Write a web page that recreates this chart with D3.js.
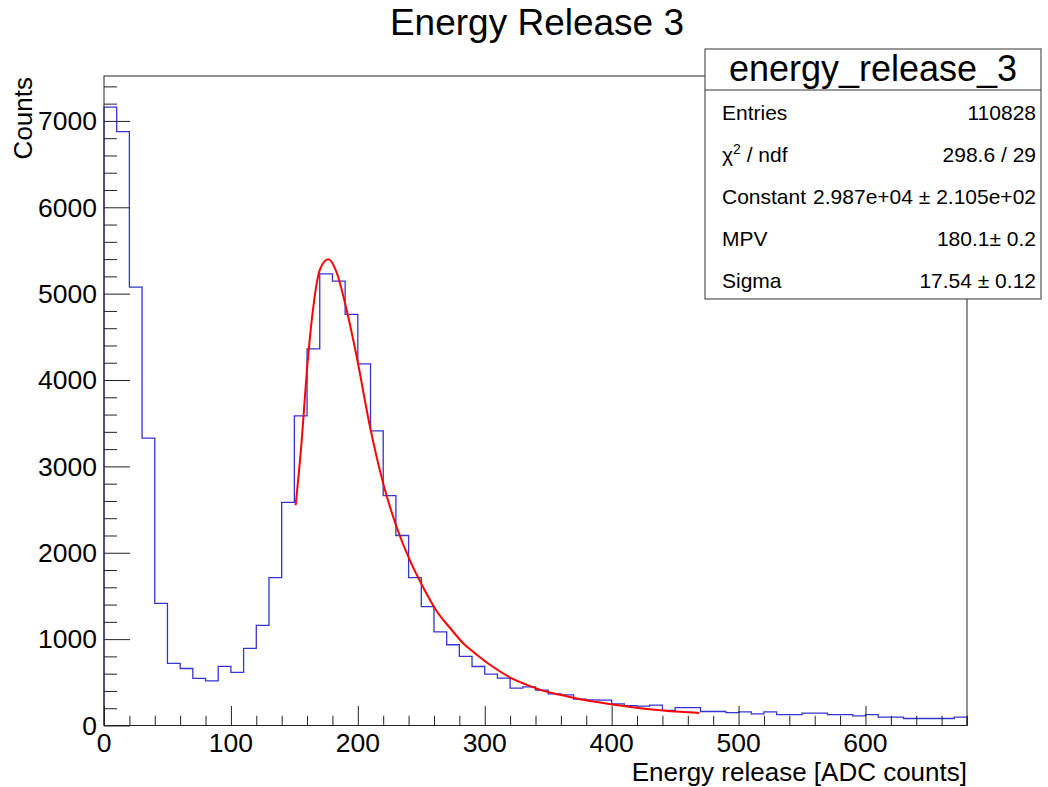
<!DOCTYPE html>
<html>
<head>
<meta charset="utf-8">
<script src="https://cdn.jsdelivr.net/npm/d3@7"></script>
<style>
  html, body { margin: 0; padding: 0; background: #fff; }
  svg { display: block; font-family: "Liberation Sans", Arial, Helvetica, sans-serif; }
</style>
</head>
<body>
<svg id="chart" width="1048" height="787"></svg>
<script>
// ---- data ----
const binWidth = 10;
const binLowEdges = d3.range(0, 680, binWidth);
const counts = [
  7160, 6877, 5075, 3327, 1415, 720, 660, 546, 516, 685,
  616, 894, 1160, 1711, 2584, 3585, 4361, 5230, 5145, 4761,
  4187, 3411, 2662, 2200, 1711, 1377, 1083, 935, 800, 683,
  594, 548, 432, 447, 409, 366, 355, 305, 297, 293,
  251, 231, 224, 235, 174, 208, 208, 162, 162, 150,
  158, 135, 158, 127, 127, 143, 143, 127, 127, 112,
  127, 96, 96, 81, 81, 81, 81, 96
];
const fitX = [151, 155.8, 159.7, 165.0, 170.2, 176.8, 183.4, 189.9, 199.1, 209.6,
  220.1, 230.7, 241.2, 251.7, 262.2, 272.7, 283.2, 291.1, 301.6, 312.1,
  322.6, 333.1, 343.6, 359.4, 375.1, 390.9, 406.7, 422.4, 438.2, 454.0, 469.0];
const fitY = [2550, 3302, 4078, 4854, 5281, 5397, 5242, 4893, 4272, 3457,
  2797, 2293, 1905, 1595, 1323, 1129, 950, 850, 729, 625,
  536, 471, 413, 355, 305, 266, 231, 201, 177, 158, 145];
const xMajorTicks = [0, 100, 200, 300, 400, 500, 600];
const yMajorTicks = [0, 1000, 2000, 3000, 4000, 5000, 6000, 7000];
const statsLabels = ["Entries", "χ2 / ndf", "Constant", "MPV", "Sigma"];
const statsValues = ["110828", "298.6 / 29", "2.987e+04 ± 2.105e+02", "180.1± 0.2", "17.54 ± 0.12"];
const title = "Energy Release 3";
const xTitle = "Energy release [ADC counts]";
const yTitle = "Counts";
const statsName = "energy_release_3";

// ---- layout ----
const L = 104, R = 967, T = 76, B = 725.5;
const svg = d3.select("#chart");
const x = d3.scaleLinear().domain([0, 680]).range([L, R]);
const y = d3.scaleLinear().domain([0, 7520]).range([B, T]);

// histogram
const pts = [[0, 0]];
binLowEdges.forEach((e, i) => pts.push([e, counts[i]]));
pts.push([680, counts[counts.length - 1]]);
pts.push([680, 0]);
svg.append("path")
  .attr("d", d3.line().x(d => x(d[0])).y(d => y(d[1])).curve(d3.curveStepAfter)(pts))
  .attr("fill", "none").attr("stroke", "#3434cf").attr("stroke-width", 1.3);

// fit
svg.append("path")
  .attr("d", d3.line().x((d, i) => x(fitX[i])).y((d, i) => y(fitY[i])).curve(d3.curveMonotoneX)(fitX))
  .attr("fill", "none").attr("stroke", "#ff0000").attr("stroke-width", 2);

// frame
svg.append("rect").attr("x", L).attr("y", T).attr("width", R - L).attr("height", B - T)
  .attr("fill", "none").attr("stroke", "#222").attr("stroke-width", 1);

// x axis ticks (inside)
const xAxis = d3.axisTop(x).tickValues(xMajorTicks).tickSize(19.5).tickFormat("");
const gx = svg.append("g").attr("transform", `translate(0,${B})`).call(xAxis);
const xMinor = d3.axisTop(x).tickValues(d3.range(0, 681, 20).filter(v => v % 100 !== 0)).tickSize(9.75).tickFormat("");
const gxm = svg.append("g").attr("transform", `translate(0,${B})`).call(xMinor);
[gx, gxm].forEach(g => { g.select(".domain").remove(); g.selectAll("line").attr("stroke", "#222"); });

// y axis ticks (inside)
const yAxis = d3.axisRight(y).tickValues(yMajorTicks).tickSize(26).tickFormat("");
const gy = svg.append("g").attr("transform", `translate(${L},0)`).call(yAxis);
const yMinor = d3.axisRight(y).tickValues(d3.range(0, 7520, 200).filter(v => v % 1000 !== 0)).tickSize(13).tickFormat("");
const gym = svg.append("g").attr("transform", `translate(${L},0)`).call(yMinor);
[gy, gym].forEach(g => { g.select(".domain").remove(); g.selectAll("line").attr("stroke", "#222"); });

// tick labels
svg.append("g").selectAll("text").data(xMajorTicks).join("text")
  .attr("x", d => x(d)).attr("y", 752).attr("text-anchor", "middle")
  .attr("font-size", 26.5).attr("fill", "#000").text(d => d);
svg.append("g").selectAll("text").data(yMajorTicks).join("text")
  .attr("x", 97).attr("y", d => y(d)).attr("dy", "0.35em").attr("text-anchor", "end")
  .attr("font-size", 26.5).attr("fill", "#000").text(d => d);

// titles
svg.append("text").attr("x", 537).attr("y", 35).attr("text-anchor", "middle")
  .attr("font-size", 37).attr("fill", "#000").text(title);
svg.append("text").attr("x", R).attr("y", 781).attr("text-anchor", "end")
  .attr("font-size", 26).attr("fill", "#000").text(xTitle);
svg.append("text").attr("transform", `translate(32,${T + 1}) rotate(-90)`).attr("text-anchor", "end")
  .attr("font-size", 26).attr("fill", "#000").text(yTitle);

// stats box
const SB = { x0: 705, x1: 1041, y0: 49, y1: 299, sep: 90 };
svg.append("rect").attr("x", SB.x0).attr("y", SB.y0).attr("width", SB.x1 - SB.x0).attr("height", SB.y1 - SB.y0)
  .attr("fill", "#fff").attr("stroke", "#333").attr("stroke-width", 1);
svg.append("line").attr("x1", SB.x0).attr("x2", SB.x1).attr("y1", SB.sep).attr("y2", SB.sep)
  .attr("stroke", "#333").attr("stroke-width", 1);
svg.append("text").attr("x", (SB.x0 + SB.x1) / 2).attr("y", 81).attr("text-anchor", "middle")
  .attr("font-size", 36).attr("fill", "#000").text(statsName);
const rowY = [119.5, 161.5, 203.5, 245.5, 287.5];
statsLabels.forEach((lab, i) => {
  const t = svg.append("text").attr("x", 722).attr("y", rowY[i]).attr("font-size", 21).attr("fill", "#000");
  if (lab.startsWith("χ2")) {
    t.append("tspan").text("χ");
    t.append("tspan").attr("font-size", 14).attr("dy", -8).text("2");
    t.append("tspan").attr("dy", 8).text(" / ndf");
  } else {
    t.text(lab);
  }
  svg.append("text").attr("x", 1036).attr("y", rowY[i]).attr("text-anchor", "end")
    .attr("font-size", 21).attr("fill", "#000").text(statsValues[i]);
});
</script>
</body>
</html>
